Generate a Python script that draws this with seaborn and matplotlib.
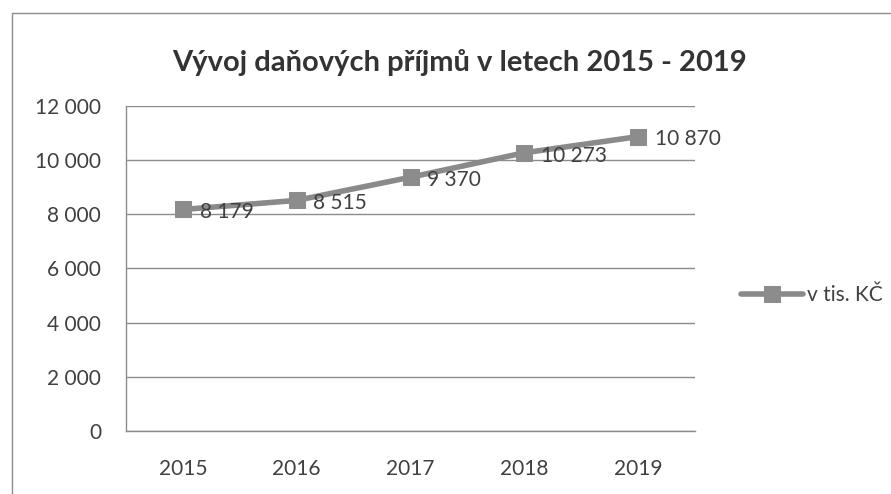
import seaborn as sns
import matplotlib.pyplot as plt
import matplotlib.patches as mpatches
from matplotlib.ticker import FuncFormatter
import pandas as pd

# data
roky = ['2015', '2016', '2017', '2018', '2019']
prijmy = [8179, 8515, 9370, 10273, 10870]
serie = 'v tis. KČ'

data = pd.DataFrame({'Rok': roky, 'Hodnota': prijmy})

sns.set_style("white")
plt.rcParams['font.family'] = ['Lato', 'DejaVu Sans']

fig = plt.figure(figsize=(8.91, 4.94), dpi=100)
ax = fig.add_axes([126/891, 1 - 431/494, (695 - 126)/891, (431 - 106)/494])

sns.lineplot(data=data, x='Rok', y='Hodnota', ax=ax, color='#8a8a8a',
             linewidth=4, marker='s', markersize=11,
             markerfacecolor='#8c8c8c', markeredgecolor='#8c8c8c',
             label=serie, sort=False)

# data labels
for i, v in enumerate(prijmy):
    ax.annotate(f'{v:,}'.replace(',', ' '), (i, v), xytext=(12, -2),
                textcoords='offset points', ha='left', va='center',
                fontsize=15, color='#404040')

ax.set_ylim(0, 12000)
ax.set_xlim(-0.5, 4.5)
ax.set_yticks(range(0, 12001, 2000))
ax.yaxis.set_major_formatter(FuncFormatter(lambda v, p: f'{int(v):,}'.replace(',', ' ')))
ax.grid(axis='y', color='#8c8c8c', linewidth=1)
ax.grid(axis='x', visible=False)
for s in ['top', 'right']:
    ax.spines[s].set_visible(False)
for s in ['left', 'bottom']:
    ax.spines[s].set_color('#8c8c8c')
    ax.spines[s].set_linewidth(1)
ax.tick_params(axis='y', length=4, color='#8c8c8c', labelsize=15, labelcolor='#404040', pad=14)
ax.tick_params(axis='x', length=0, labelsize=15, labelcolor='#404040', pad=20)
ax.set_xlabel('')
ax.set_ylabel('')

ax.legend(loc='center left', bbox_to_anchor=(722/891, 1 - 295/494),
          bbox_transform=fig.transFigure, frameon=False, fontsize=15,
          handlelength=3, handletextpad=0.2, labelcolor='#404040')

fig.text(460/891, 1 - 62/494, 'Vývoj daňových příjmů v letech 2015 - 2019',
         ha='center', va='center', fontsize=21, fontweight='bold', color='#333333')

# chart border from the scan
fig.patches.append(mpatches.Rectangle((12/891, -0.1), 1.2, 1.1 - 13/494,
                                      transform=fig.transFigure, fill=False,
                                      edgecolor='#8c8c8c', linewidth=1))

fig.savefig('out.png', dpi=100, facecolor='white')
